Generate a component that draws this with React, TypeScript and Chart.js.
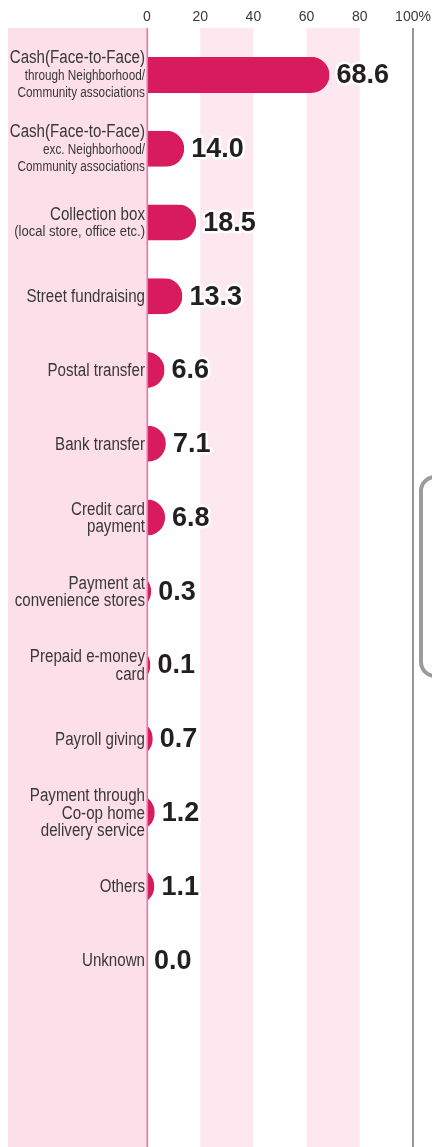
import { useEffect, useRef } from "react";
import { Chart, registerables } from "chart.js";

Chart.register(...registerables);

// ---------- DATA ----------
const categories: string[][] = [
  ["Cash(Face-to-Face)", "through Neighborhood/", "Community associations"],
  ["Cash(Face-to-Face)", "exc. Neighborhood/", "Community associations"],
  ["Collection box", "(local store, office etc.)"],
  ["Street fundraising"],
  ["Postal transfer"],
  ["Bank transfer"],
  ["Credit card", "payment"],
  ["Payment at", "convenience stores"],
  ["Prepaid e-money", "card"],
  ["Payroll giving"],
  ["Payment through", "Co-op home", "delivery service"],
  ["Others"],
  ["Unknown"],
];

const values: number[] = [68.6, 14.0, 18.5, 13.3, 6.6, 7.1, 6.8, 0.3, 0.1, 0.7, 1.2, 1.1, 0.0];

const xTickValues: number[] = [0, 20, 40, 60, 80, 100];
const xTickLabels: string[] = ["0", "20", "40", "60", "80", "100%"];

// ---------- STYLE ----------
const W = 432;
const H = 1147;
const BAR_COLOR = "#d81b5c";
const PANEL_COLOR = "#fcdfe9";
const BAND_COLOR = "#fde8f0";
const ZERO_LINE = "#e8789f";
const END_LINE = "#6a6a6a";
const TEXT_COLOR = "#383838";
const VALUE_COLOR = "#231f20";
const SANS = '"Liberation Sans", Arial, Helvetica, sans-serif';
const CONDENSE = 0.84;
// per-category line font sizes (main line is 18px)
const LINE_SIZES: Record<number, number[]> = {
  0: [18, 14, 14],
  1: [18, 14, 14],
  2: [18, 15.5],
};
const LINE_GAP = 17.4;

const backgroundPlugin = {
  id: "bgPanels",
  beforeDraw(chart: any) {
    const { ctx, chartArea, scales } = chart;
    const x = scales.x;
    const top = chartArea.top - 10;
    const bottom = chart.height;
    const x0 = x.getPixelForValue(0);
    ctx.save();
    ctx.fillStyle = "#ffffff";
    ctx.fillRect(0, 0, chart.width, chart.height);
    ctx.fillStyle = PANEL_COLOR;
    ctx.fillRect(8, top, x0 - 8, bottom - top);
    ctx.fillStyle = BAND_COLOR;
    for (let i = 0; i < xTickValues.length - 1; i++) {
      if (i % 2 === 1) {
        const a = x.getPixelForValue(xTickValues[i]);
        const b = x.getPixelForValue(xTickValues[i + 1]);
        ctx.fillRect(a, top, b - a, bottom - top);
      }
    }
    ctx.restore();
  },
};

const barsPlugin = {
  id: "roundCaps",
  beforeDatasetDraw(chart: any, args: any) {
    const { ctx } = chart;
    const meta = chart.getDatasetMeta(args.index);
    ctx.save();
    ctx.fillStyle = BAR_COLOR;
    meta.data.forEach((el: any, i: number) => {
      const v = values[i];
      if (!(v > 0)) return;
      const p = el.getProps(["x", "y", "base", "height"], true);
      const px = p.x - p.base;
      const right = px < 6 ? p.base + 3 + 1.5 * px : p.x;
      const r = p.height / 2;
      ctx.save();
      ctx.beginPath();
      ctx.rect(p.base, p.y - r, right - p.base, p.height);
      ctx.clip();
      ctx.beginPath();
      if (right - r > p.base) ctx.rect(p.base, p.y - r, right - r - p.base + 0.5, p.height);
      ctx.moveTo(right, p.y);
      ctx.arc(right - r, p.y, r, 0, Math.PI * 2);
      ctx.fill();
      ctx.restore();
    });
    ctx.restore();
    return false;
  },
};

const overlayPlugin = {
  id: "overlay",
  afterDatasetsDraw(chart: any) {
    const { ctx, chartArea, scales } = chart;
    const x = scales.x;
    const y = scales.y;
    const top = chartArea.top - 10;
    const bottom = chart.height;
    const x0 = x.getPixelForValue(0);
    const x100 = x.getPixelForValue(100);
    ctx.save();
    // zero line
    ctx.strokeStyle = ZERO_LINE;
    ctx.lineWidth = 1.6;
    ctx.beginPath();
    ctx.moveTo(x0 + 0.3, top);
    ctx.lineTo(x0 + 0.3, bottom);
    ctx.stroke();
    // 100% line
    ctx.strokeStyle = END_LINE;
    ctx.lineWidth = 1.4;
    ctx.beginPath();
    ctx.moveTo(x100, top);
    ctx.lineTo(x100, bottom);
    ctx.stroke();

    // decorative bracket at right edge
    ctx.strokeStyle = "#9b9b9b";
    ctx.lineWidth = 4;
    ctx.beginPath();
    ctx.roundRect(x100 + 8, 477, 60, 199, 14);
    ctx.stroke();

    // value labels
    ctx.font = `bold 27px ${SANS}`;
    ctx.textAlign = "left";
    ctx.textBaseline = "middle";
    ctx.lineJoin = "round";
    const meta = chart.getDatasetMeta(0);
    meta.data.forEach((el: any, i: number) => {
      const v = values[i];
      const p = el.getProps(["x", "y", "base"], true);
      const px = p.x - p.base;
      const right = v > 0 ? (px < 6 ? p.base + 3 + 1.5 * px : p.x) : p.base;
      const tx = right + 7;
      const t = v.toFixed(1);
      ctx.strokeStyle = "#ffffff";
      ctx.lineWidth = 5;
      ctx.strokeText(t, tx, p.y + 1);
      ctx.fillStyle = VALUE_COLOR;
      ctx.fillText(t, tx, p.y + 1);
    });

    // category labels (condensed)
    ctx.fillStyle = TEXT_COLOR;
    ctx.textAlign = "right";
    ctx.textBaseline = "middle";
    categories.forEach((lines, i) => {
      const cy = y.getPixelForValue(i);
      const sizes = LINE_SIZES[i] || lines.map(() => 18);
      const n = lines.length;
      lines.forEach((line, j) => {
        const ly = cy + (j - (n - 1) / 2) * LINE_GAP + 1;
        ctx.save();
        ctx.translate(x0 - 2, ly);
        ctx.scale(CONDENSE, 1);
        ctx.font = `${sizes[j]}px ${SANS}`;
        ctx.fillText(line, 0, 0);
        ctx.restore();
      });
    });
    ctx.restore();
  },
};

export default function App() {
  const ref = useRef<HTMLCanvasElement | null>(null);
  useEffect(() => {
    document.body.style.margin = "0";
    const canvas = ref.current;
    if (!canvas) return;
    const chart = new Chart(canvas, {
      type: "bar",
      data: {
        labels: categories.map((c) => c.join(" ")),
        datasets: [
          {
            data: values,
            backgroundColor: BAR_COLOR,
            barThickness: 36,
          },
        ],
      },
      options: {
        indexAxis: "y",
        animation: false,
        responsive: false,
        maintainAspectRatio: false,
        layout: { padding: { top: 0, right: 19, bottom: 150, left: 0 } },
        plugins: {
          legend: { display: false },
          tooltip: { enabled: false },
        },
        scales: {
          x: {
            position: "top",
            min: 0,
            max: 100,
            afterBuildTicks: (s: any) => {
              s.ticks = xTickValues.map((v) => ({ value: v }));
            },
            afterFit: (s: any) => {
              s.height = 38;
              s.paddingLeft = 0;
              s.paddingRight = 0;
            },
            ticks: {
              autoSkip: false,
              maxRotation: 0,
              padding: 12,
              color: TEXT_COLOR,
              font: { family: SANS, size: 14 },
              callback: (_v: any, i: number) => xTickLabels[i],
            },
            grid: { display: false, drawTicks: false },
            border: { display: false },
          },
          y: {
            ticks: { display: false },
            grid: { display: false, drawTicks: false },
            border: { display: false },
            afterFit: (s: any) => {
              s.width = 147;
            },
          },
        },
      } as any,
      plugins: [backgroundPlugin, barsPlugin, overlayPlugin],
    });
    return () => chart.destroy();
  }, []);
  return (
    <canvas
      ref={ref}
      width={W}
      height={H}
      style={{ display: "block", width: W, height: H }}
    />
  );
}
